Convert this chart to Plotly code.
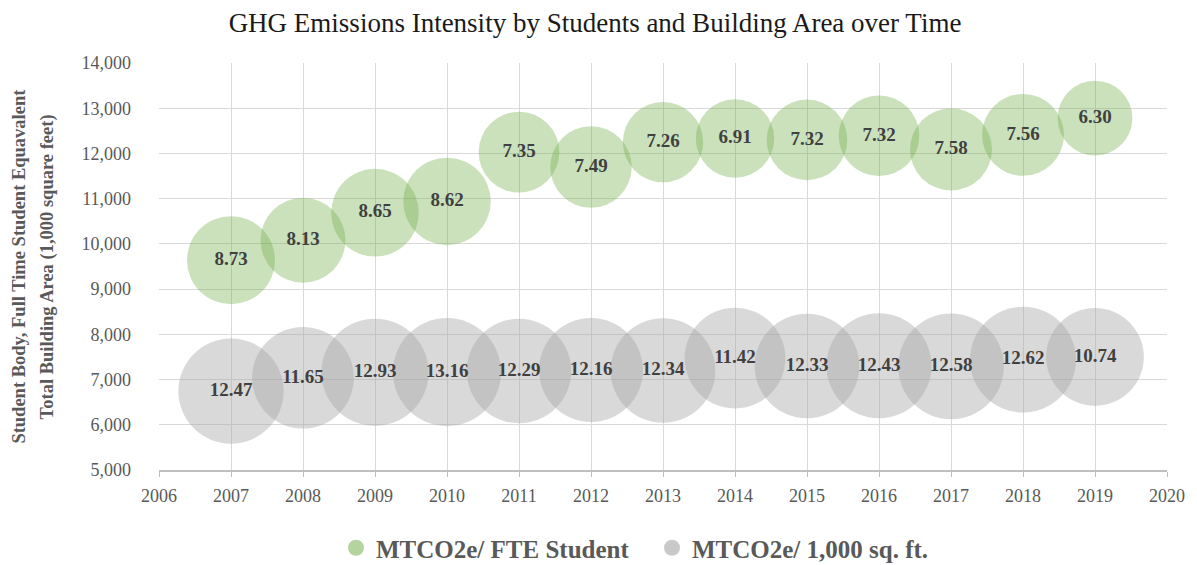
import plotly.graph_objects as go

# ── Data ──────────────────────────────────────────────────────────────────────
years = [2007, 2008, 2009, 2010, 2011, 2012, 2013, 2014, 2015, 2016, 2017, 2018, 2019]

fte_students = [9640, 10080, 10690, 10940, 12030, 11700, 12250, 12330, 12300, 12390, 12090, 12410, 12780]
mtco2e_per_fte = [8.73, 8.13, 8.65, 8.62, 7.35, 7.49, 7.26, 6.91, 7.32, 7.32, 7.58, 7.56, 6.30]

building_area = [6745, 7040, 7160, 7165, 7190, 7210, 7200, 7475, 7300, 7305, 7290, 7440, 7500]
mtco2e_per_area = [12.47, 11.65, 12.93, 13.16, 12.29, 12.16, 12.34, 11.42, 12.33, 12.43, 12.58, 12.62, 10.74]

SERIF = 'Liberation Serif, Times New Roman, serif'
GREEN = 'rgba(112,173,71,0.52)'
GREY = 'rgba(165,165,165,0.60)'
LABEL = '#404040'
AXIS_TXT = '#595959'

# page body has an 8px margin, so the figure is drawn 8px in from the corner
W, H, OFF = 1197 - 8, 565 - 8, 8
PLOT_L, PLOT_R = 159, 1175   # plot area in window pixels
PLOT_T, PLOT_B = 63, 470

# bubble diameter ~ 29.8 * sqrt(value) px
SIZEREF = 2 / 29.8 ** 2


def _bubble(x, y, size, name, color):
    return go.Scatter(
        x=x, y=y, name=name,
        mode='markers+text',
        text=[f'{v:.2f}' for v in size],
        textposition='middle center',
        textfont=dict(family=SERIF, size=19, color=LABEL, weight='bold'),
        marker=dict(size=size, sizemode='area', sizeref=SIZEREF,
                    color=color, line=dict(width=0)),
        cliponaxis=False, showlegend=False,
        hovertemplate='%{x}<br>%{y:,.0f}<br>%{text}<extra></extra>',
    )


def _legend_entry(name, color):
    # legend-only entry so the swatch can be drawn at a readable size
    return go.Scatter(
        x=[None], y=[None], name=name, mode='markers',
        marker=dict(size=16, color=color),
    )


fig = go.Figure()
fig.add_trace(_bubble(years, fte_students, mtco2e_per_fte, 'MTCO2e/ FTE Student', GREEN))
fig.add_trace(_bubble(years, building_area, mtco2e_per_area, 'MTCO2e/ 1,000 sq. ft.', GREY))
fig.add_trace(_legend_entry('MTCO2e/ FTE Student', GREEN))
fig.add_trace(_legend_entry('MTCO2e/ 1,000 sq. ft.', GREY))

fig.update_layout(
    width=W, height=H,
    paper_bgcolor='white', plot_bgcolor='white',
    margin=dict(l=PLOT_L - OFF, r=OFF + W - PLOT_R, t=PLOT_T - OFF, b=OFF + H - PLOT_B),
    title=dict(
        text='GHG Emissions Intensity by Students and Building Area over Time',
        x=(595 - OFF) / W, xanchor='center', y=1 - (23 - OFF) / H, yanchor='middle',
        font=dict(family=SERIF, size=27, color='#1a1a1a'),
    ),
    font=dict(family=SERIF, color=AXIS_TXT),
    showlegend=True,
    legend=dict(
        orientation='h', xref='container', yref='container',
        x=(652 - OFF) / W, xanchor='center',
        y=1 - (548 - OFF) / H, yanchor='middle',
        font=dict(family=SERIF, size=25, color=AXIS_TXT, weight='bold'),
        itemsizing='trace', entrywidth=271, entrywidthmode='pixels',
        bgcolor='rgba(0,0,0,0)',
    ),
)

# two-line y title, placed like the original
y_title_lines = ['Student Body, Full Time Student Equavalent',
                 'Total Building Area (1,000 square feet)']
for line, px_x in zip(y_title_lines, [17, 47]):
    fig.add_annotation(
        text=line, textangle=-90, showarrow=False,
        xref='paper', yref='paper', x=(px_x - PLOT_L) / (PLOT_R - PLOT_L), y=0.5,
        xanchor='center', yanchor='middle',
        font=dict(family=SERIF, size=18.5, color=AXIS_TXT, weight='bold'),
    )

fig.update_xaxes(
    range=[2006, 2020], dtick=1, tick0=2006,
    showgrid=True, gridcolor='#D9D9D9', gridwidth=1.3,
    showline=True, linecolor='#BFBFBF', linewidth=1.5,
    ticks='outside', ticklen=5, tickcolor='#BFBFBF',
    ticklabelstandoff=4,
    tickfont=dict(family=SERIF, size=18, color=AXIS_TXT),
    zeroline=False,
)
fig.update_yaxes(
    range=[5000, 14000], dtick=1000, tickformat=',',
    showgrid=True, gridcolor='#D9D9D9', gridwidth=1.3,
    showline=False, ticks='',
    ticklabelstandoff=27,
    tickfont=dict(family=SERIF, size=18, color=AXIS_TXT),
    zeroline=False,
)

fig.write_html('out.html')
